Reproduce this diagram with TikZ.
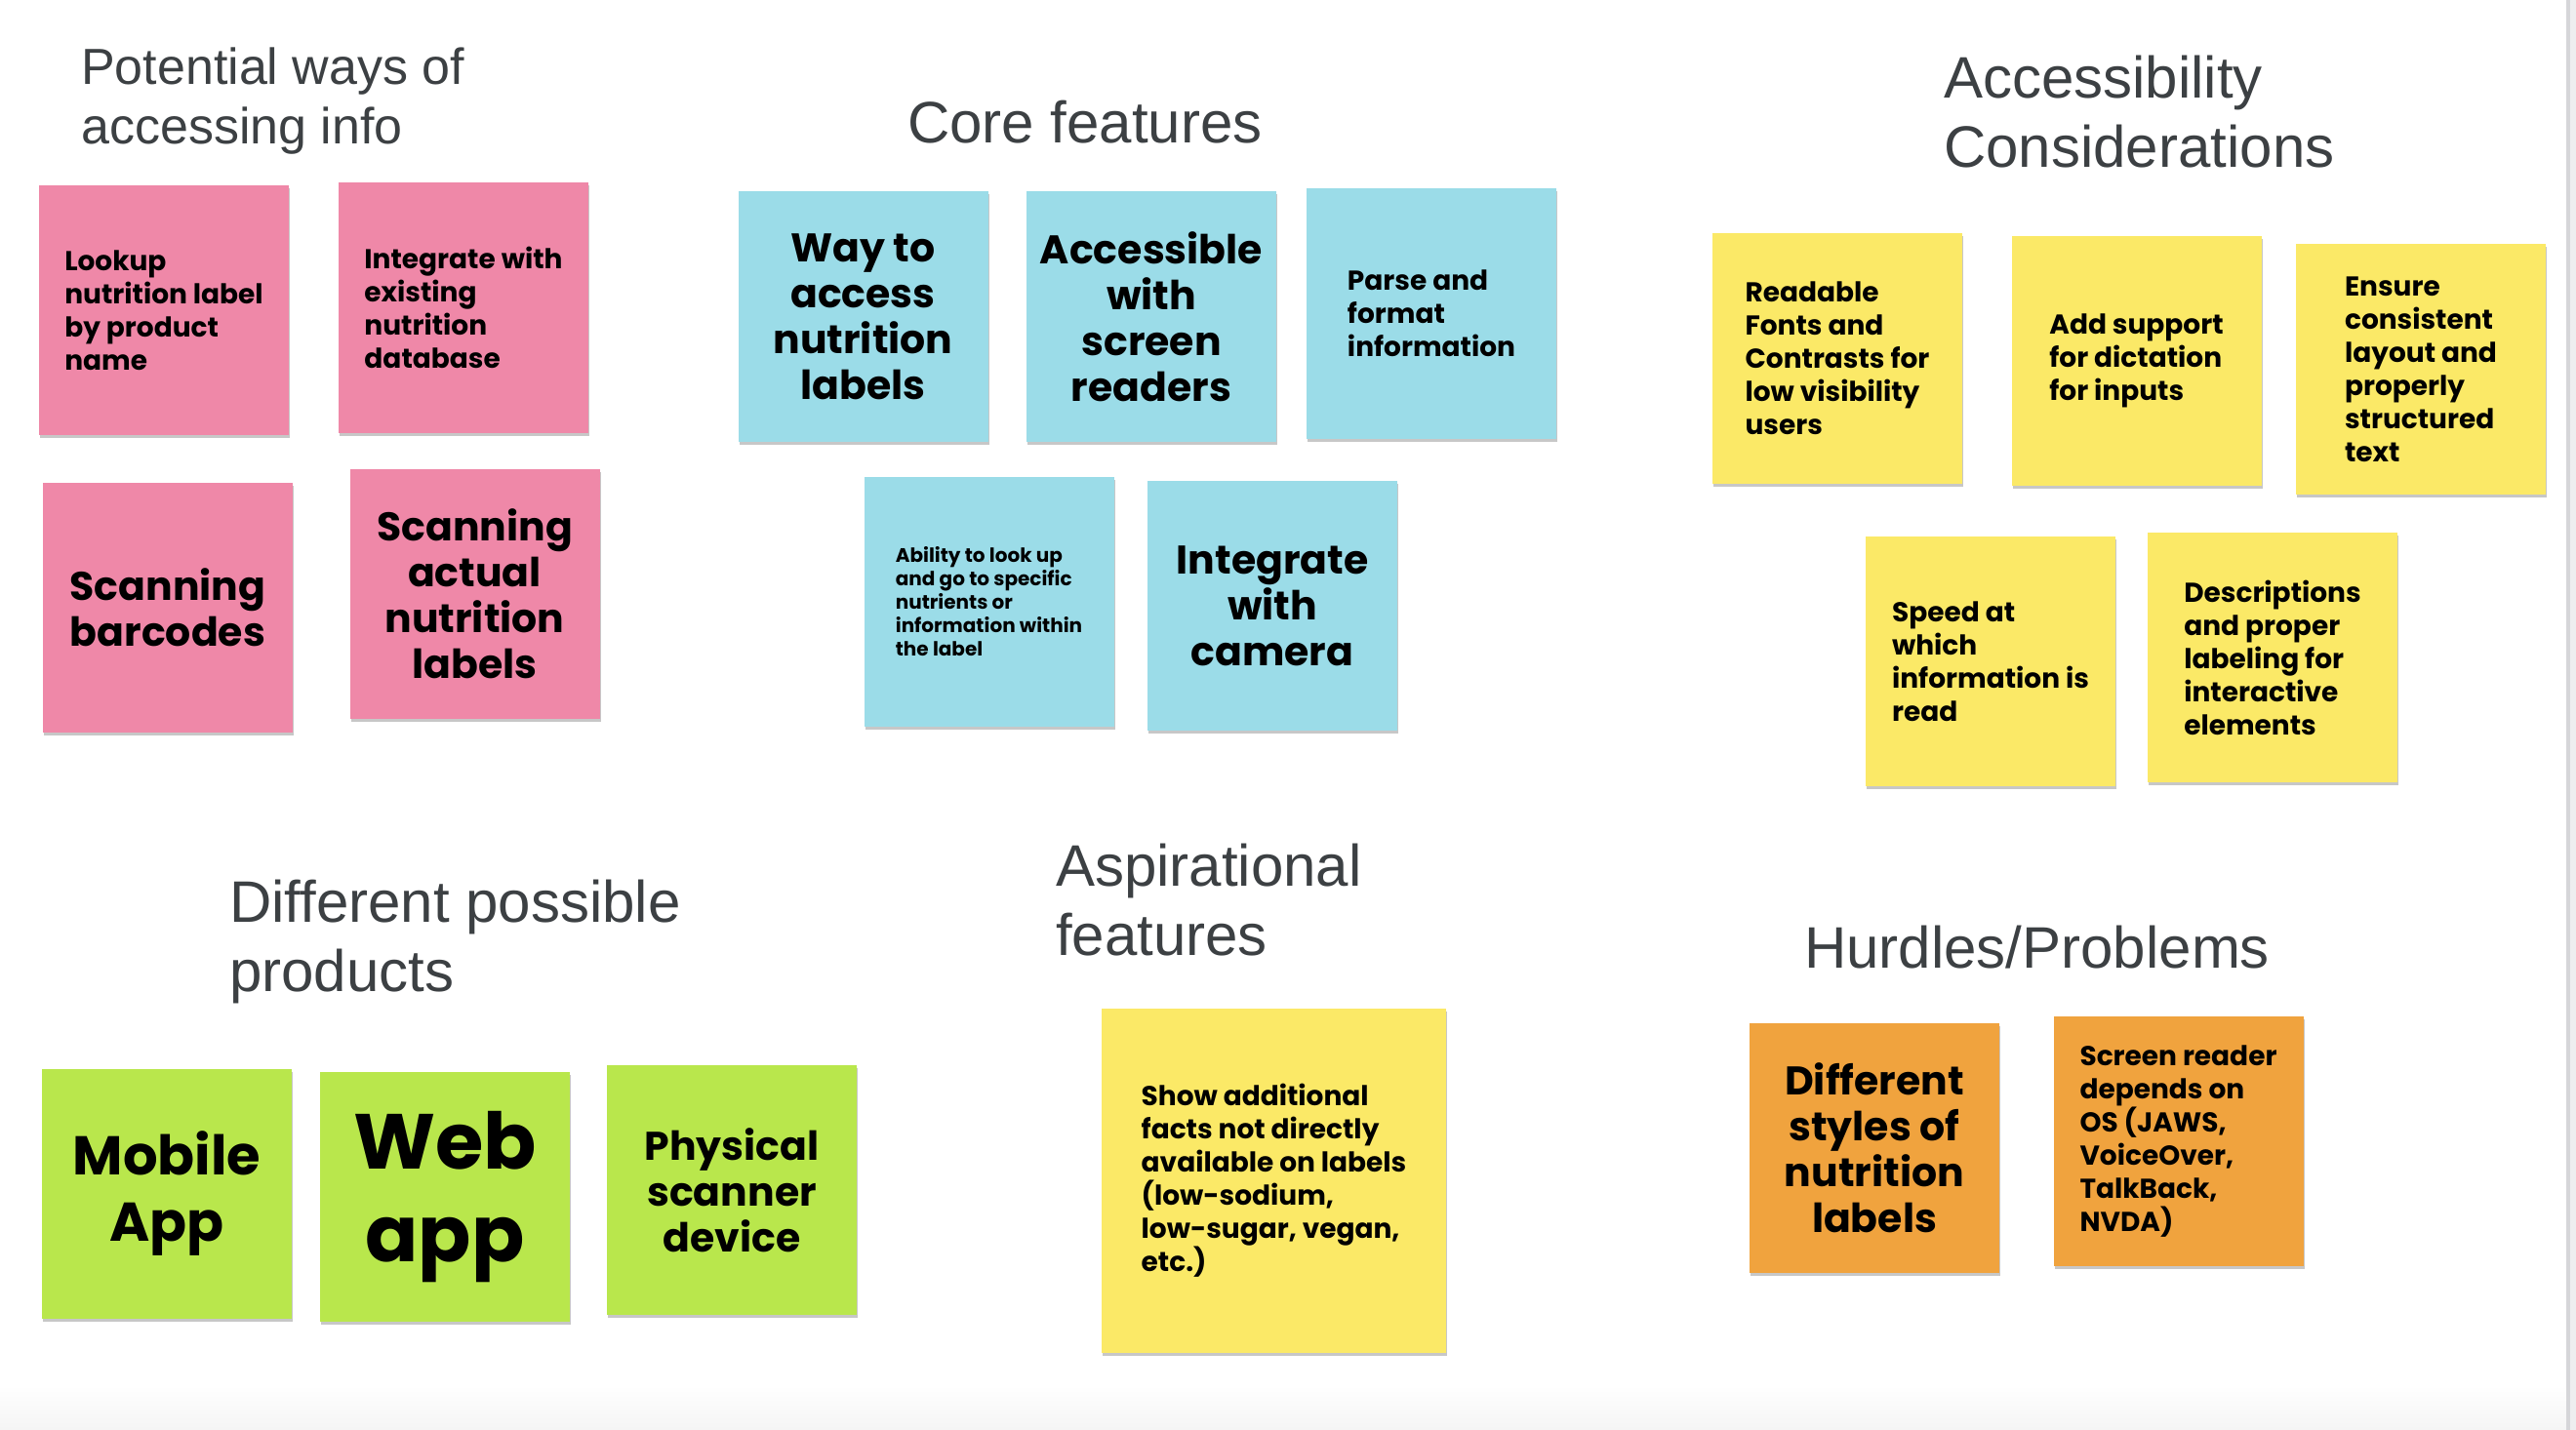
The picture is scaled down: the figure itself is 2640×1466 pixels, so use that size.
\documentclass[tikz,border=0pt]{standalone}
\usepackage{fontspec}
\setmainfont{Liberation Sans}
\newfontfamily\notefont{Poppins}
\usetikzlibrary{shadows}

\definecolor{headgray}{HTML}{3C4043}
\definecolor{notepink}{HTML}{EF88A8}
\definecolor{noteblue}{HTML}{9BDCE8}
\definecolor{noteyellow}{HTML}{FBE967}
\definecolor{notegreen}{HTML}{B9E74C}
\definecolor{noteorange}{HTML}{F0A33E}
\definecolor{edgegray}{HTML}{D6D6D9}
\definecolor{bandgray}{HTML}{EEEEF0}

\begin{document}
\begin{tikzpicture}[x=1pt, y=-1pt,
  % multi-line headings are placed by the baseline of their last line
  heading/.style={anchor=base west, inner sep=0pt, align=left, text=headgray,
    font=\fontsize{60}{71}\selectfont},
  note/.style={minimum width=256pt, minimum height=256pt, inner sep=0pt,
    text=black, drop shadow={shadow xshift=1pt, shadow yshift=-3pt, opacity=0.22, fill=black}},
  small/.style={note, align=left, font=\notefont\bfseries\fontsize{28}{34}\selectfont},
  tiny/.style={note, align=left, font=\notefont\bfseries\fontsize{20}{24}\selectfont},
  big/.style={note, align=center, font=\notefont\bfseries\fontsize{41}{47}\selectfont},
  large/.style={note, align=center, font=\notefont\bfseries\fontsize{56}{68}\selectfont},
  huge/.style={note, align=center, font=\notefont\bfseries\fontsize{80}{95}\selectfont},
  pink/.style={fill=notepink}, blue/.style={fill=noteblue},
  yellow/.style={fill=noteyellow}, green/.style={fill=notegreen},
  orange/.style={fill=noteorange}
]
\useasboundingbox (0,0) rectangle (2640,1466);
% canvas
\fill[white] (0,0) rectangle (2640,1466);
\shade[top color=white, bottom color=black!4] (0,1420) rectangle (2630,1466);
\fill[edgegray] (2630,0) rectangle (2634,1466);
\fill[bandgray] (2634,0) rectangle (2640,1466);

% section headings
\node[heading, font=\fontsize{52}{61}\selectfont] (hways) at (83,148) {Potential ways of\\accessing info};
\node[heading] (hcore) at (930,147) {Core features};
\node[heading] (hacc) at (1992,172) {Accessibility\\Considerations};
\node[heading] (hprod) at (235,1016) {Different possible\\products};
\node[heading] (hasp) at (1082,979) {Aspirational\\features};
\node[heading] (hhurd) at (1849,992) {Hurdles/Problems};

% ways of accessing info
\node[small, pink] (lookup) at (168,318) {Lookup\\nutrition label\\by product\\name};
\node[small, pink] (database) at (475,315.5) {Integrate with\\existing\\nutrition\\database};
\node[big, pink] (barcodes) at (172,623) {Scanning\\barcodes};
\node[big, pink] (scanlabels) at (486.5,608.5) {Scanning\\actual\\nutrition\\labels};

% core features
\node[big, blue] (access) at (884.5,324.5) {Way to\\access\\nutrition\\labels};
\node[big, blue] (readers) at (1180,324.5) {Accessible\\with\\screen\\readers};
\node[small, blue] (parse) at (1467,321.5) {Parse and\\format\\information};
\node[tiny, blue] (lookupin) at (1013.5,616.5) {Ability to look up\\and go to specific\\nutrients or\\information within\\the label};
\node[big, blue] (camera) at (1304,621) {Integrate\\with\\camera};

% accessibility considerations
\node[small, yellow] (fonts) at (1883,367.5) {Readable\\Fonts and\\Contrasts for\\low visibility\\users};
\node[small, yellow] (dictation) at (2189.5,370) {Add support\\for dictation\\for inputs};
\node[small, yellow] (layout) at (2481,378.5) {Ensure\\consistent\\layout and\\properly\\structured\\text};
\node[small, yellow] (speed) at (2040,678) {Speed at\\which\\information is\\read};
\node[small, yellow] (labeling) at (2329,674) {Descriptions\\and proper\\labeling for\\interactive\\elements};

% products
\node[large, green] (mobile) at (171,1224) {Mobile\\App};
\node[huge, green] (web) at (456,1227) {Web\\app};
\node[big, green] (scanner) at (750,1220) {Physical\\scanner\\device};

% aspirational
\node[small, yellow, minimum width=353pt, minimum height=353pt] (facts) at (1305.5,1210.5)
  {Show additional\\facts not directly\\available on labels\\(low-sodium,\\low-sugar, vegan,\\etc.)};

% hurdles
\node[big, orange] (styles) at (1921,1176.5) {Different\\styles of\\nutrition\\labels};
\node[small, orange] (osdep) at (2232.5,1170) {Screen reader\\depends on\\OS (JAWS,\\VoiceOver,\\TalkBack,\\NVDA)};
\end{tikzpicture}
\end{document}
